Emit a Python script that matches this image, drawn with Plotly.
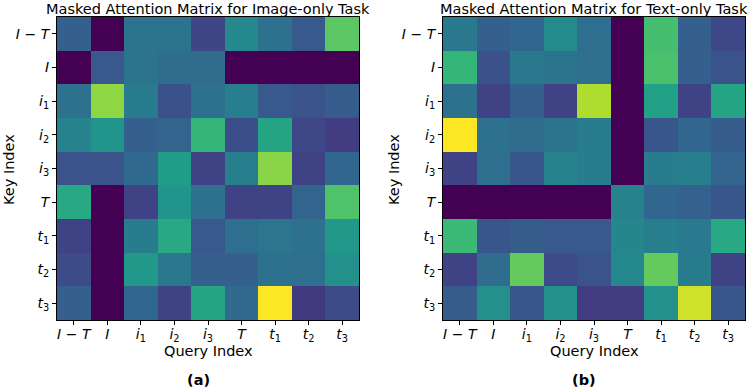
import plotly.graph_objects as go

labels = ["<i>I</i> − <i>T</i>", "<i>I</i>", "<i>i</i><sub>1</sub>", "<i>i</i><sub>2</sub>",
          "<i>i</i><sub>3</sub>", "<i>T</i>", "<i>t</i><sub>1</sub>", "<i>t</i><sub>2</sub>",
          "<i>t</i><sub>3</sub>"]

# rows = key index (top to bottom), columns = query index (left to right)
image_only = [
    [0.30, 0.00, 0.38, 0.38, 0.21, 0.47, 0.37, 0.28, 0.74],
    [0.00, 0.28, 0.38, 0.35, 0.35, 0.00, 0.00, 0.00, 0.00],
    [0.37, 0.83, 0.42, 0.25, 0.37, 0.43, 0.28, 0.26, 0.29],
    [0.45, 0.52, 0.30, 0.32, 0.66, 0.24, 0.58, 0.22, 0.18],
    [0.26, 0.26, 0.34, 0.55, 0.20, 0.43, 0.82, 0.20, 0.33],
    [0.60, 0.00, 0.20, 0.52, 0.37, 0.20, 0.20, 0.32, 0.72],
    [0.20, 0.00, 0.42, 0.60, 0.28, 0.36, 0.39, 0.37, 0.53],
    [0.23, 0.00, 0.53, 0.40, 0.30, 0.30, 0.37, 0.36, 0.50],
    [0.30, 0.00, 0.33, 0.20, 0.58, 0.34, 1.00, 0.17, 0.23],
]

text_only = [
    [0.40, 0.30, 0.33, 0.48, 0.36, 0.00, 0.70, 0.30, 0.22],
    [0.66, 0.25, 0.40, 0.38, 0.36, 0.00, 0.71, 0.30, 0.26],
    [0.37, 0.20, 0.30, 0.20, 0.88, 0.00, 0.57, 0.20, 0.58],
    [1.00, 0.37, 0.35, 0.38, 0.42, 0.00, 0.27, 0.33, 0.29],
    [0.20, 0.36, 0.27, 0.45, 0.42, 0.00, 0.42, 0.43, 0.32],
    [0.00, 0.00, 0.00, 0.00, 0.00, 0.45, 0.33, 0.31, 0.27],
    [0.68, 0.27, 0.29, 0.28, 0.28, 0.46, 0.43, 0.41, 0.60],
    [0.20, 0.35, 0.76, 0.23, 0.26, 0.47, 0.76, 0.42, 0.20],
    [0.29, 0.50, 0.27, 0.50, 0.18, 0.18, 0.50, 0.93, 0.27],
]

titles = ["Masked Attention Matrix for Image-only Task", "Masked Attention Matrix for Text-only Task"]
panel_tags = ["<b>(a)</b>", "<b>(b)</b>"]

W, H = 750, 390
FONT = "DejaVu Sans"


def px(X):
    return X / W


def py(Y):
    return 1 - Y / H


fig = go.Figure()
for k, z in enumerate([image_only, text_only]):
    fig.add_trace(go.Heatmap(
        z=z, x=labels, y=labels, colorscale="Viridis", zmin=0, zmax=1,
        showscale=False, xaxis="x" if k == 0 else "x2", yaxis="y" if k == 0 else "y2",
        hovertemplate="Query %{x}<br>Key %{y}<br>%{z}<extra></extra>",
    ))

px_dom = [(57, 359), (443, 745)]
y_top, y_bot = 17, 320
axis_common = dict(
    showline=True, linecolor="black", linewidth=1, mirror=True,
    ticks="outside", ticklen=4, tickcolor="black", tickwidth=1,
    showgrid=False, zeroline=False, tickfont=dict(family=FONT, size=14, color="black"),
    type="category",
)
layout = dict(
    width=W, height=H, margin=dict(l=0, r=0, t=0, b=0),
    paper_bgcolor="white", plot_bgcolor="white",
    font=dict(family=FONT, color="black"),
    showlegend=False,
)
for k, (x0, x1) in enumerate(px_dom):
    sx = "" if k == 0 else "2"
    layout["xaxis" + sx] = dict(axis_common, domain=[px(x0), px(x1)], anchor="y" + sx,
                                ticklabelstandoff=-3)
    layout["yaxis" + sx] = dict(axis_common, domain=[py(y_bot), py(y_top)],
                                anchor="x" + sx, autorange="reversed")
fig.update_layout(**layout)

ann = []
centers = [208, 594]
tag_x = [198, 584]
ylab_x = [9, 394]
for k in range(2):
    ann.append(dict(text=titles[k], x=px(centers[k]), y=py(9), xref="paper", yref="paper",
                    showarrow=False, font=dict(family=FONT, size=14.5), xanchor="center", yanchor="middle"))
    ann.append(dict(text="Query Index", x=px(centers[k]), y=py(351), xref="paper", yref="paper",
                    showarrow=False, font=dict(family=FONT, size=14.5), xanchor="center", yanchor="middle"))
    ann.append(dict(text="Key Index", x=px(ylab_x[k]), y=py(170), xref="paper", yref="paper",
                    showarrow=False, textangle=-90, font=dict(family=FONT, size=14.5),
                    xanchor="center", yanchor="middle"))
    ann.append(dict(text=panel_tags[k], x=px(tag_x[k]), y=py(380), xref="paper", yref="paper",
                    showarrow=False, font=dict(family=FONT, size=14.5), xanchor="center", yanchor="middle"))
fig.update_layout(annotations=ann)

# remove the browser's default 8px body margin so the figure fills the window
fig.write_html("out.html", config={"displayModeBar": False},
               post_script="document.body.style.margin='0';")
